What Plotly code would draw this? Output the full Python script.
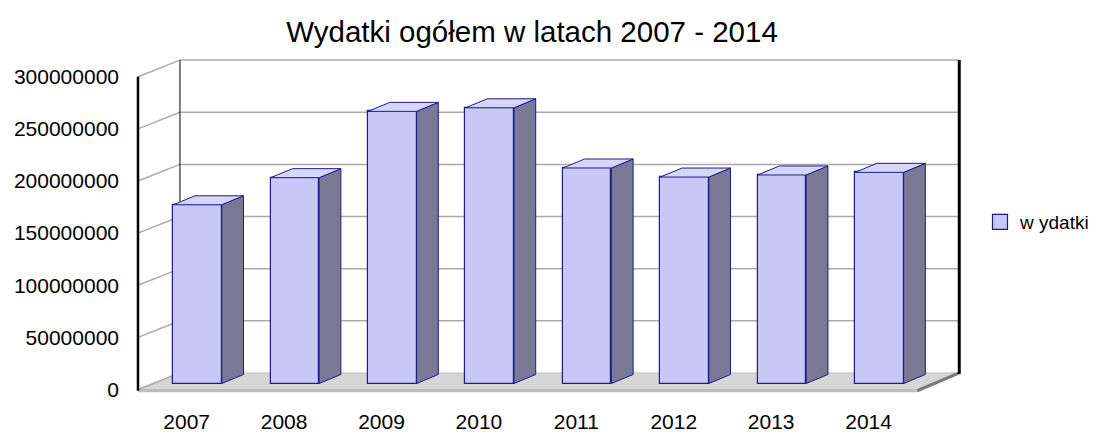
import plotly.graph_objects as go

# ---- data ----
years = ["2007", "2008", "2009", "2010", "2011", "2012", "2013", "2014"]
wydatki = [171400000, 197400000, 261000000, 264400000, 206700000, 198000000, 200000000, 202500000]
y_ticks = [0, 50000000, 100000000, 150000000, 200000000, 250000000, 300000000]
series_name = "w ydatki"
title_text = "Wydatki ogółem w latach 2007 - 2014"

# ---- 3D geometry (in axis units) ----
WALL_DX = 0.431          # depth of the floor/walls along x
WALL_DY = 15.9e6         # depth of the floor/walls along y
BAR_SHIFT = 0.111        # bar front face offset from front plane
BAR_BASE = 5.75e6
BAR_W = 0.498
SIDE_DX = 0.223
SIDE_DY = 8.65e6

FRONT = "#c8c8f7"
SIDE = "#797996"
TOP = "#d6d6fc"
EDGE = "#1c1c8a"
GRID = "#ababab"

# the page body adds an 8px margin around the figure
W, H = 1090, 424
OFF = 8

xi = list(range(len(years)))
x_left = -0.5
x_right = len(years) - 0.5
ymax = y_ticks[-1]

fig = go.Figure()

shapes = []
# floor
shapes.append(dict(type="path", layer="below",
                   path=f"M {x_left},0 L {x_left+WALL_DX},{WALL_DY} L {x_right+WALL_DX},{WALL_DY} L {x_right},0 Z",
                   fillcolor="#d6d6d6", line=dict(color="#c4c4c4", width=1)))
# floor front edge
shapes.append(dict(type="line", layer="below", x0=x_left, x1=x_right, y0=-1.2e6, y1=-1.2e6,
                   line=dict(color="#bdbdbd", width=3)))
# floor right edge
shapes.append(dict(type="line", layer="below", x0=x_right, x1=x_right + WALL_DX, y0=-1.2e6, y1=WALL_DY,
                   line=dict(color="#7a7a7a", width=3)))
# left wall diagonal at floor
shapes.append(dict(type="line", layer="below", x0=x_left, x1=x_left + WALL_DX, y0=0, y1=WALL_DY,
                   line=dict(color=GRID, width=1.5)))
# gridlines on back wall and left wall
for v in y_ticks[1:]:
    shapes.append(dict(type="line", layer="below", x0=x_left + WALL_DX, x1=x_right + WALL_DX,
                       y0=v + WALL_DY, y1=v + WALL_DY, line=dict(color=GRID, width=1.5)))
    shapes.append(dict(type="line", layer="below", x0=x_left, x1=x_left + WALL_DX,
                       y0=v, y1=v + WALL_DY, line=dict(color=GRID, width=1.5)))
# back-left vertical edge
shapes.append(dict(type="line", layer="below", x0=x_left + WALL_DX, x1=x_left + WALL_DX,
                   y0=WALL_DY, y1=ymax + WALL_DY, line=dict(color="black", width=1)))
# back-right vertical edge
shapes.append(dict(type="line", layer="below", x0=x_right + WALL_DX, x1=x_right + WALL_DX,
                   y0=WALL_DY - 1e6, y1=ymax + WALL_DY, line=dict(color="black", width=3)))
# front-left value axis
shapes.append(dict(type="line", layer="above", x0=x_left, x1=x_left,
                   y0=-1.2e6, y1=ymax, line=dict(color="black", width=2.5)))

# front faces
fig.add_trace(go.Bar(
    x=[i + BAR_SHIFT for i in xi], y=wydatki, base=[BAR_BASE] * len(wydatki),
    width=BAR_W, name=series_name,
    marker=dict(color=FRONT, line=dict(color=EDGE, width=1.2)),
    showlegend=False, hoverinfo="skip"))

# side and top faces
sx, sy = [], []
tx, ty = [], []
for i, v in zip(xi, wydatki):
    r = i + BAR_SHIFT + BAR_W / 2
    l = i + BAR_SHIFT - BAR_W / 2
    top = BAR_BASE + v
    sx += [r, r + SIDE_DX, r + SIDE_DX, r, r, None]
    sy += [BAR_BASE, BAR_BASE + SIDE_DY, top + SIDE_DY, top, BAR_BASE, None]
    tx += [l, r, r + SIDE_DX, l + SIDE_DX, l, None]
    ty += [top, top, top + SIDE_DY, top + SIDE_DY, top, None]

fig.add_trace(go.Scatter(x=sx, y=sy, mode="lines", fill="toself", fillcolor=SIDE,
                         line=dict(color=EDGE, width=1), showlegend=False, hoverinfo="skip"))
fig.add_trace(go.Scatter(x=tx, y=ty, mode="lines", fill="toself", fillcolor=TOP,
                         line=dict(color=EDGE, width=1), showlegend=False, hoverinfo="skip"))

# legend entry
fig.add_trace(go.Scatter(x=[None], y=[None], mode="markers", name=series_name,
                         marker=dict(symbol="square", size=15, color=FRONT,
                                     line=dict(color=EDGE, width=1.2)),
                         showlegend=True))

fig.update_layout(
    width=W, height=H,
    margin=dict(l=130 - OFF, r=W - (980 - OFF), t=45 - OFF, b=H - (398 - OFF), autoexpand=False),
    paper_bgcolor="white", plot_bgcolor="white",
    font=dict(family="Liberation Sans, Arial, sans-serif", size=21, color="black"),
    title=dict(text=title_text, x=(532 - OFF) / W, xref="container",
               y=1 - (32 - OFF) / H, yref="container",
               xanchor="center", yanchor="middle",
               font=dict(size=29.5, color="black")),
    shapes=shapes,
    showlegend=True,
    legend=dict(x=(980 - OFF) / W, y=1 - (222 - OFF) / H, xref="container", yref="container",
                xanchor="left", yanchor="middle",
                font=dict(size=19), bgcolor="rgba(0,0,0,0)", itemwidth=30),
    bargap=0,
)
fig.update_xaxes(range=[-0.582, 8.144], tickvals=xi, ticktext=years, showgrid=False,
                 zeroline=False, showline=False, ticks="", ticklabelstandoff=9,
                 fixedrange=True, automargin=False)
fig.update_yaxes(range=[-8.15e6, 330.4e6], tickvals=y_ticks, ticktext=[str(v) for v in y_ticks],
                 showgrid=False, zeroline=False, showline=False, ticks="", ticklabelstandoff=10,
                 fixedrange=True, automargin=False)

fig.write_html("out.html")
